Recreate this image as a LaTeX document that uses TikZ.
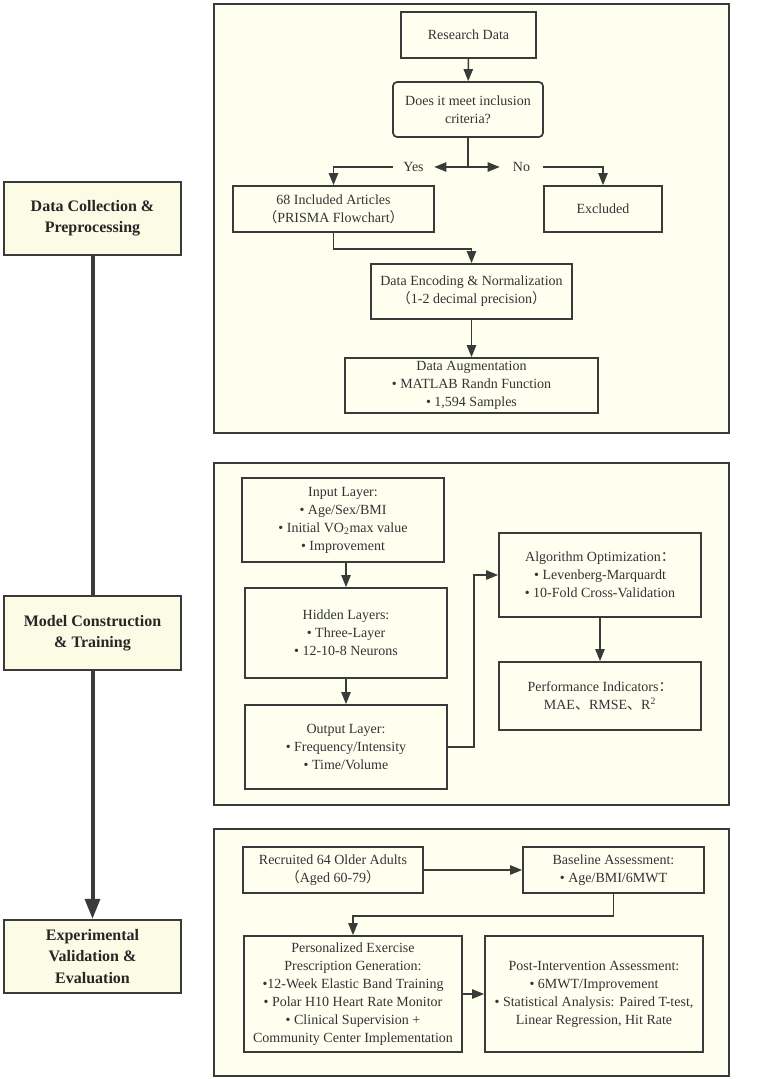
\documentclass[tikz,border=0pt]{standalone}
\usepackage{fontspec}
\setmainfont{Liberation Serif}
\newfontfamily\cjk{Noto Sans CJK SC}
\usetikzlibrary{arrows.meta}
\definecolor{panelfill}{HTML}{FFFFF0}
\definecolor{leftfill}{HTML}{FCFCE6}
\definecolor{edge}{HTML}{3A3A3A}
\newcommand{\cj}[1]{{\cjk #1}}
\tikzset{
  panel/.style={draw=edge, line width=1.5pt, fill=panelfill},
  bx/.style={draw=edge, line width=1.3pt, fill=panelfill, align=center, inner sep=0pt,
     font=\fontsize{10.5}{13.5}\selectfont, text=black!80},
  lbox/.style={draw=edge, line width=1.3pt, fill=leftfill, align=center, inner sep=0pt,
     minimum width=132.75pt, minimum height=55pt,
     font=\fontsize{12}{16}\selectfont\bfseries, text=black!85},
  lbl/.style={inner sep=0pt, font=\fontsize{10.5}{13.5}\selectfont, text=black!80},
  arr/.style={draw=edge, line width=1.1pt, -{Triangle[length=9pt,width=7pt]}},
  ln/.style={draw=edge, line width=1.1pt},
  thick arr/.style={draw=edge, line width=3pt, -{Triangle[length=15pt,width=11pt]}},
}
\begin{document}
\begin{tikzpicture}[x=0.75pt,y=-0.75pt]
\useasboundingbox (0,0) rectangle (767,1079);
% panels
\draw[panel] (214,4) rectangle (729,433);
\draw[panel] (214,463) rectangle (729,805);
\draw[panel] (214,829) rectangle (729,1076);

% left column
\node[lbox] (L1) at (92.5,218.5) {Data Collection \&\\Preprocessing};
\node[lbox] (L2) at (92.5,633) {Model Construction\\\& Training};
\node[lbox] (L3) at (92.5,956.5) {Experimental\\Validation \&\\Evaluation};
\draw[draw=edge, line width=3pt] (L1.south) -- (L2.north);
\draw[thick arr] (L2.south) -- (L3.north);

% panel 1
\node[bx, minimum width=101.25pt, minimum height=34.5pt] (rd) at (468.5,35) {Research Data};
\node[bx, rounded corners=3pt, minimum width=112.5pt, minimum height=41.25pt] (dec) at (468,109.5) {Does it meet inclusion\\criteria?};
\node[bx, minimum width=150.75pt, minimum height=34.5pt] (inc) at (333.5,209) {68 Included Articles\\\cj{（}PRISMA Flowchart\cj{）}};
\node[bx, minimum width=88.5pt, minimum height=34.5pt] (exc) at (603,209) {Excluded};
\node[bx, minimum width=150.75pt, minimum height=41.25pt] (enc) at (471.5,291.5) {Data Encoding \& Normalization\\\cj{（}1-2 decimal precision\cj{）}};
\node[bx, minimum width=189.75pt, minimum height=41.25pt] (aug) at (471.5,385.5) {Data Augmentation\\\textbullet\ MATLAB Randn Function\\\textbullet\ 1,594 Samples};
\coordinate (split) at (468,167);
\node[lbl, minimum width=30.75pt] (yes) at (413.5,167) {Yes};
\node[lbl, minimum width=32.25pt] (no) at (521.5,167) {No};

\draw[arr] (rd) -- (dec);
\draw[ln] (dec.south) -- (split);
\draw[arr] (split) -- (yes.east);
\draw[arr] (split) -- (no.west);
\draw[arr] (yes.west) -| (inc.north);
\draw[arr] (no.east) -| (exc.north);
\draw[arr] (inc.south) -- ++(0,16) -| (enc.north);
\draw[arr] (enc) -- (aug);

% panel 2
\node[bx, minimum width=151.5pt, minimum height=63pt] (inp) at (343,520) {Input Layer:\\\textbullet\ Age/Sex/BMI\\\textbullet\ Initial VO\textsubscript{2}max value\\\textbullet\ Improvement};
\node[bx, minimum width=151.5pt, minimum height=67.5pt] (hid) at (346,633) {Hidden Layers:\\\textbullet\ Three-Layer\\\textbullet\ 12-10-8 Neurons};
\node[bx, minimum width=151.5pt, minimum height=63pt] (out) at (346,747) {Output Layer:\\\textbullet\ Frequency/Intensity\\\textbullet\ Time/Volume};
\node[bx, minimum width=151.5pt, minimum height=63pt] (alg) at (600,575) {Algorithm Optimization\cj{：}\\\textbullet\ Levenberg-Marquardt\\\textbullet\ 10-Fold Cross-Validation};
\node[bx, minimum width=151.5pt, minimum height=51pt] (perf) at (600,696) {Performance Indicators\cj{：}\\MAE\cj{、}RMSE\cj{、}R\textsuperscript{2}};

\draw[arr] (hid.north |- inp.south) -- (hid.north);
\draw[arr] (hid) -- (out);
\draw[arr] (out.east) -- ++(26,0) |- (alg.west);
\draw[arr] (alg) -- (perf);

% panel 3
\node[bx, minimum width=135pt, minimum height=34.5pt] (rec) at (333,870) {Recruited 64 Older Adults\\\cj{（}Aged 60-79\cj{）}};
\node[bx, minimum width=135.75pt, minimum height=34.5pt] (base) at (613.5,870) {Baseline Assessment:\\\textbullet\ Age/BMI/6MWT};
\node[bx, minimum width=163.5pt, minimum height=87pt] (pers) at (353,994) {Personalized Exercise\\Prescription Generation:\\\textbullet 12-Week Elastic Band Training\\\textbullet\ Polar H10 Heart Rate Monitor\\\textbullet\ Clinical Supervision +\\Community Center Implementation};
\node[bx, minimum width=163.5pt, minimum height=87pt] (post) at (594,994) {Post-Intervention Assessment:\\\textbullet\ 6MWT/Improvement\\\textbullet\ Statistical Analysis: Paired T-test,\\Linear Regression, Hit Rate};

\draw[arr] (rec) -- (base);
\draw[arr] (base.south) -- ++(0,22) -| (pers.north);
\draw[arr] (pers) -- (post);
\end{tikzpicture}
\end{document}
